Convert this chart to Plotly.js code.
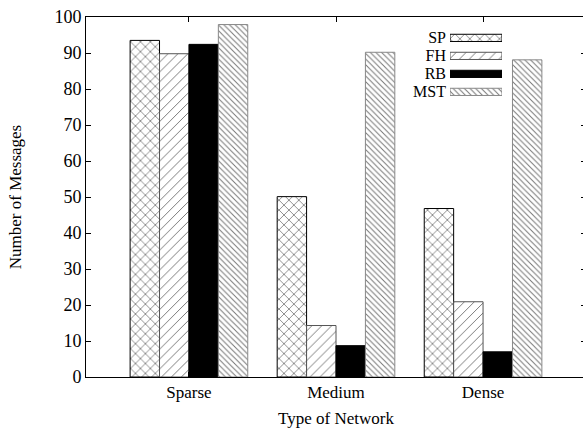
<!DOCTYPE html>
<html>
<head>
<meta charset="utf-8">
<script src="https://cdn.plot.ly/plotly-3.0.1.min.js"></script>
<style>
html, body { margin: 0; padding: 0; overflow: hidden; background: #fff; }
#chart { width: 588px; height: 428px; }
</style>
</head>
<body>
<div id="chart"></div>
<script>
// ---- data ----
const categories = ["Sparse", "Medium", "Dense"];
const seriesNames = ["SP", "FH", "RB", "MST"];
const spValues = [93.5, 50.1, 46.8];
const fhValues = [89.8, 14.3, 20.9];
const rbValues = [92.4, 8.7, 7.0];
const mstValues = [97.9, 90.2, 88.1];
const yTicks = [0, 10, 20, 30, 40, 50, 60, 70, 80, 90, 100];

// ---- styles ----
const FONT = "Liberation Serif, Times New Roman, serif";
const styles = [
  { color: "#ffffff", shape: "x", fg: "#000000", size: 7, sol: 0.12, line: "#000000" },
  { color: "#ffffff", shape: "/", fg: "#444444", size: 7, sol: 0.1, line: "#555555" },
  { color: "#000000", shape: "", fg: "#000000", size: 8, sol: 0.1, line: "#000000" },
  { color: "#ffffff", shape: "\\", fg: "#777777", size: 4, sol: 0.25, line: "#888888" }
];
const allValues = [spValues, fhValues, rbValues, mstValues];

function markerFor(s) {
  return {
    color: s.color,
    line: { color: s.line, width: 1 },
    pattern: {
      shape: s.shape,
      fillmode: "replace",
      bgcolor: s.color,
      fgcolor: s.fg,
      size: s.size,
      solidity: s.sol
    }
  };
}

const traces = allValues.map((vals, i) => ({
  type: "bar",
  name: seriesNames[i],
  x: categories,
  y: vals,
  showlegend: false,
  marker: markerFor(styles[i]),
  hoverinfo: "skip"
}));

// legend built as a small horizontal bar chart (labels on the left, swatches on the right)
seriesNames.forEach((name, i) => {
  traces.push({
    type: "bar",
    orientation: "h",
    xaxis: "x2",
    yaxis: "y2",
    y: [name],
    x: [1],
    width: 0.4,
    offsetgroup: "legend",
    showlegend: false,
    hoverinfo: "skip",
    marker: markerFor(styles[i])
  });
});

const layout = {
  width: 588,
  height: 428,
  margin: { l: 86, r: 2, t: 17, b: 51 },
  paper_bgcolor: "#ffffff",
  plot_bgcolor: "#ffffff",
  font: { family: FONT, size: 17, color: "#000000" },
  barmode: "group",
  bargap: 0.2,
  bargroupgap: 0,
  showlegend: false,
  xaxis: {
    range: [-0.7, 2.7],
    showline: true, linecolor: "#000", linewidth: 1,
    mirror: "ticks",
    ticks: "inside", ticklen: 5, tickcolor: "#000",
    showgrid: false, zeroline: false,
    tickfont: { family: FONT, size: 17 },
    title: { text: "Type of Network", font: { family: FONT, size: 17 }, standoff: 16 }
  },
  yaxis: {
    range: [0, 100],
    tickvals: yTicks,
    showline: true, linecolor: "#000", linewidth: 1,
    mirror: "ticks",
    ticks: "inside", ticklen: 5, tickcolor: "#000",
    showgrid: false, zeroline: false,
    tickfont: { family: FONT, size: 18 },
    title: { text: "Number of Messages", font: { family: FONT, size: 17 }, standoff: 28 }
  },
  xaxis2: {
    domain: [0.728, 0.832],
    anchor: "y2",
    range: [0, 1],
    visible: false,
    fixedrange: true
  },
  yaxis2: {
    domain: [0.767, 0.967],
    anchor: "x2",
    autorange: "reversed",
    tickmode: "array",
    tickvals: seriesNames,
    ticktext: seriesNames,
    showgrid: false, zeroline: false, showline: false,
    ticks: "",
    ticklabelstandoff: 3,
    tickfont: { family: FONT, size: 16 }
  }
};

Plotly.newPlot("chart", traces, layout, { displayModeBar: false, staticPlot: true });
</script>
</body>
</html>
